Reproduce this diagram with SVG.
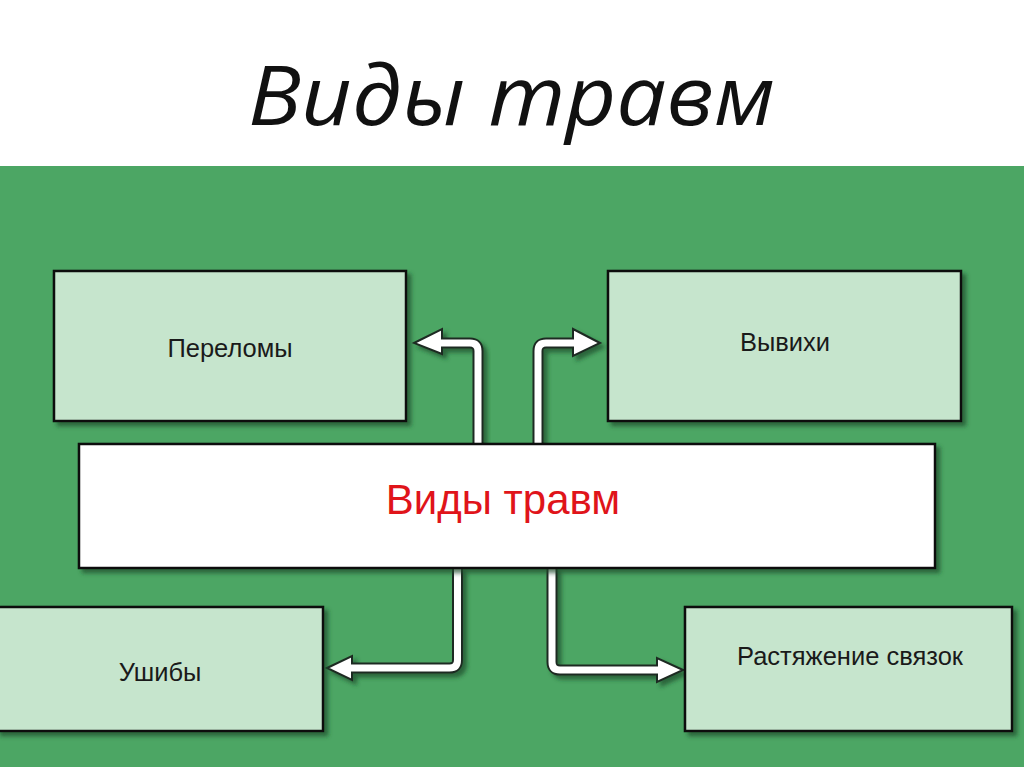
<svg xmlns="http://www.w3.org/2000/svg" width="1024" height="767" viewBox="0 0 1024 767">
<style>
.box{fill:#c6e5cd;stroke:#111;stroke-width:2.5}
.center{fill:#ffffff;stroke:#111;stroke-width:2.5}
.lbl{font-family:"Liberation Sans",Arial,sans-serif;font-size:25.5px;fill:#1a1a1a;text-anchor:middle}
.shaftOut{fill:none;stroke:#1f2a22;stroke-width:11;stroke-linejoin:round}
.shaftIn{fill:none;stroke:#ffffff;stroke-width:7;stroke-linejoin:round}
.head{fill:#ffffff;stroke:#1f2a22;stroke-width:2;stroke-linejoin:miter}
</style>
<defs>
<filter id="sh" x="-10%" y="-10%" width="130%" height="140%">
<feDropShadow dx="4" dy="4" stdDeviation="2" flood-color="#1b4a28" flood-opacity="0.7"/>
</filter>
</defs>
<rect x="0" y="0" width="1024" height="767" fill="#ffffff"/>
<rect x="0" y="166" width="1024" height="601" fill="#4ca664"/>
<text x="248" y="125" font-family="'Open Sans','Noto Sans',sans-serif" font-style="italic" font-size="82" fill="#111" textLength="527" lengthAdjust="spacingAndGlyphs">Виды травм</text>

<g id="connectors">
<g filter="url(#sh)">
<path class="shaftOut" d="M478 444 V351 Q478 343 470 343 H438"/>
<polygon class="head" points="414,343 442,329 442,354"/>
<path class="shaftIn" d="M478 446 V351 Q478 343 470 343 H436"/>
</g>
<g filter="url(#sh)">
<path class="shaftOut" d="M538 444 V351 Q538 343 546 343 H577"/>
<polygon class="head" points="600,343 573,329 573,356"/>
<path class="shaftIn" d="M538 446 V351 Q538 343 546 343 H579"/>
</g>
<g filter="url(#sh)">
<path class="shaftOut" d="M457.5 568 V660 Q457.5 668 449.5 668 H348"/>
<polygon class="head" points="327,668 352,656 352,680"/>
<path class="shaftIn" d="M457.5 566 V660 Q457.5 668 449.5 668 H346"/>
</g>
<g filter="url(#sh)">
<path class="shaftOut" d="M552 568 V662 Q552 670 560 670 H661"/>
<polygon class="head" points="683,670 657,658 657,682"/>
<path class="shaftIn" d="M552 566 V662 Q552 670 560 670 H663"/>
</g>
</g>

<g id="node-center">
<rect class="center" x="79" y="444" width="856" height="124" filter="url(#sh)"/>
<text x="503" y="514" font-family="'Liberation Sans',Arial,sans-serif" font-size="42" fill="#e0141a" text-anchor="middle">Виды травм</text>
</g>
<g id="node-perelomy">
<rect class="box" x="54" y="271" width="352" height="150" filter="url(#sh)"/>
<text class="lbl" x="230" y="357">Переломы</text>
</g>
<g id="node-vyvikhi">
<rect class="box" x="608" y="271" width="353" height="150" filter="url(#sh)"/>
<text class="lbl" x="785" y="351">Вывихи</text>
</g>
<g id="node-ushiby">
<rect class="box" x="-3" y="607" width="326" height="124" filter="url(#sh)"/>
<text class="lbl" x="160" y="681">Ушибы</text>
</g>
<g id="node-rastyazhenie">
<rect class="box" x="685" y="607" width="327" height="124" filter="url(#sh)"/>
<text class="lbl" x="850" y="665">Растяжение связок</text>
</g>
</svg>
